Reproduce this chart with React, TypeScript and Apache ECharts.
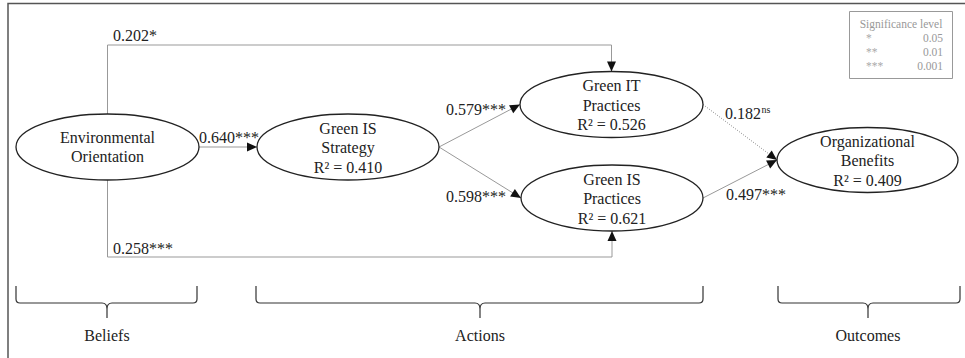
import React, { useEffect, useRef } from "react";
import * as echarts from "echarts";

// ---------- data ----------
const constructNames = [
  "Environmental\nOrientation",
  "Green IS\nStrategy",
  "Green IT\nPractices",
  "Green IS\nPractices",
  "Organizational\nBenefits",
];
const rSquared: (number | null)[] = [null, 0.41, 0.526, 0.621, 0.409];

const pathFrom = [0, 0, 1, 1, 2, 3, 0];
const pathTo = [2, 1, 2, 3, 4, 4, 3];
const pathCoef = [0.202, 0.64, 0.579, 0.598, 0.182, 0.497, 0.258];
const pathSig = ["*", "***", "***", "***", "ns", "***", "***"];

const sigSymbols = ["*", "**", "***"];
const sigLevels = ["0.05", "0.01", "0.001"];
const legendTitle = "Significance level";

const groupLabels = ["Beliefs", "Actions", "Outcomes"];

// ---------- layout (positions / styles only) ----------
const W = 965;
const H = 358;
const FAMILY = "Liberation Serif, Times New Roman, DejaVu Serif, serif";
const f = (size: number) => `${size}px ${FAMILY}`;
const nodePos = [
  { cx: 107.5, cy: 147, rx: 91.5, ry: 33 },
  { cx: 348, cy: 147, rx: 91, ry: 33 },
  { cx: 611.5, cy: 104.5, rx: 91.5, ry: 33 },
  { cx: 612, cy: 198, rx: 91, ry: 33 },
  { cx: 867.5, cy: 160, rx: 90.5, ry: 32.5 },
];
const pathRoute = ["top", "straight", "straight", "straight", "straight", "straight", "bottom"];
const TOP_Y = 45;
const BOTTOM_Y = 257;
const labelPos = [
  { x: 113, y: 35 },
  { x: 199, y: 137 },
  { x: 446, y: 109 },
  { x: 446, y: 196 },
  { x: 725, y: 113 },
  { x: 726, y: 194 },
  { x: 113, y: 248.5 },
];
const groupSpan = [
  { x1: 16, x2: 197, xc: 107 },
  { x1: 256, x2: 703, xc: 480 },
  { x1: 778, x2: 960, xc: 868 },
];

function arrowHead(tip: number[], from: number[]) {
  const dx = tip[0] - from[0];
  const dy = tip[1] - from[1];
  const len = Math.hypot(dx, dy) || 1;
  const ux = dx / len;
  const uy = dy / len;
  const L = 10;
  const hw = 4.5;
  const bx = tip[0] - ux * L;
  const by = tip[1] - uy * L;
  return [
    [tip[0], tip[1]],
    [bx - uy * hw, by + ux * hw],
    [bx + uy * hw, by - ux * hw],
  ];
}

function txt(x: number, y: number, text: string, size: number, fill: string, align: string, extra: any = {}) {
  return {
    type: "text",
    x,
    y,
    z: 4,
    style: {
      text,
      font: f(size),
      fontSize: size,
      fontFamily: FAMILY,
      fill,
      align,
      verticalAlign: "middle",
      ...extra,
    },
  };
}

function buildGraphic() {
  const els: any[] = [];
  els.push({
    type: "polyline",
    shape: { points: [[8, H], [8, 3.5], [W, 3.5]] },
    style: { stroke: "#555", lineWidth: 1.5, fill: "none" },
  });

  pathFrom.forEach((fi, i) => {
    const a = nodePos[fi];
    const b = nodePos[pathTo[i]];
    let pts: number[][];
    if (pathRoute[i] === "top") {
      pts = [[a.cx, a.cy - a.ry], [a.cx, TOP_Y], [b.cx, TOP_Y], [b.cx, b.cy - b.ry]];
    } else if (pathRoute[i] === "bottom") {
      pts = [[a.cx, a.cy + a.ry], [a.cx, BOTTOM_Y], [b.cx, BOTTOM_Y], [b.cx, b.cy + b.ry]];
    } else {
      pts = [[a.cx + a.rx, a.cy], [b.cx - b.rx, b.cy]];
    }
    const ns = pathSig[i] === "ns";
    els.push({
      type: "polyline",
      shape: { points: pts },
      style: {
        stroke: ns ? "#888" : "#999",
        lineWidth: 1,
        fill: "none",
        lineDash: ns ? [1, 1.5] : null,
      },
    });
    const tip = pts[pts.length - 1];
    const prev = pts[pts.length - 2];
    els.push({
      type: "polygon",
      shape: { points: arrowHead(tip, prev) },
      style: { fill: "#111" },
      z: 5,
    });
    const lp = labelPos[i];
    const val = pathCoef[i].toFixed(3);
    if (ns) {
      els.push(txt(lp.x, lp.y, val, 16, "#222", "left"));
      els.push(txt(lp.x + 36.5, lp.y - 4, pathSig[i], 10, "#222", "left"));
    } else {
      els.push(txt(lp.x, lp.y, val + pathSig[i], 16, "#222", "left"));
    }
  });

  nodePos.forEach((p, i) => {
    els.push({
      type: "ellipse",
      shape: { cx: p.cx, cy: p.cy, rx: p.rx, ry: p.ry },
      style: { fill: "#fff", stroke: "#222", lineWidth: 1.3 },
      z: 3,
    });
    const r = rSquared[i];
    const t = constructNames[i] + (r !== null ? "\nR\u00B2 = " + r.toFixed(3) : "");
    els.push(txt(p.cx, p.cy + (r !== null ? 0.5 : 0), t, 16, "#222", "center", { lineHeight: 19.5 }));
  });

  els.push({
    type: "rect",
    shape: { x: 849.5, y: 11.5, width: 103, height: 67 },
    style: { fill: "#fff", stroke: "#999", lineWidth: 1 },
  });
  els.push(txt(901, 24, legendTitle, 11.5, "#999", "center"));
  sigSymbols.forEach((s, i) => {
    const y = 38 + i * 14;
    els.push(txt(866, y, s, 11.5, "#aaa", "left"));
    els.push(txt(943, y, sigLevels[i], 11.5, "#999", "right"));
  });

  groupLabels.forEach((g, i) => {
    const { x1, x2, xc } = groupSpan[i];
    const top = 286;
    const mid = 303;
    const tipY = 318;
    const d =
      `M${x1} ${top} L${x1} ${mid - 4} Q${x1} ${mid} ${x1 + 4} ${mid} L${xc - 5} ${mid} Q${xc} ${mid} ${xc} ${mid + 6} L${xc} ${tipY} ` +
      `M${xc} ${mid + 6} Q${xc} ${mid} ${xc + 5} ${mid} L${x2 - 4} ${mid} Q${x2} ${mid} ${x2} ${mid - 4} L${x2} ${top}`;
    const name = "brace" + i;
    echarts.graphic.registerShape(name, echarts.graphic.extendPath(d, {}) as any);
    els.push({
      type: name,
      x: 0,
      y: 0,
      style: { fill: "none", stroke: "#333", lineWidth: 1.2 },
    });
    els.push(txt(xc, 335, g, 16, "#222", "center"));
  });

  return els;
}

export default function App() {
  const ref = useRef<HTMLDivElement>(null);
  useEffect(() => {
    if (!ref.current) return;
    const chart = echarts.init(ref.current, undefined, { renderer: "svg" });
    chart.setOption({
      animation: false,
      backgroundColor: "#fff",
      graphic: { elements: buildGraphic() },
    });
    return () => chart.dispose();
  }, []);
  return (
    <div
      ref={ref}
      style={{ position: "absolute", left: 0, top: 0, width: W, height: H, background: "#fff" }}
    />
  );
}
